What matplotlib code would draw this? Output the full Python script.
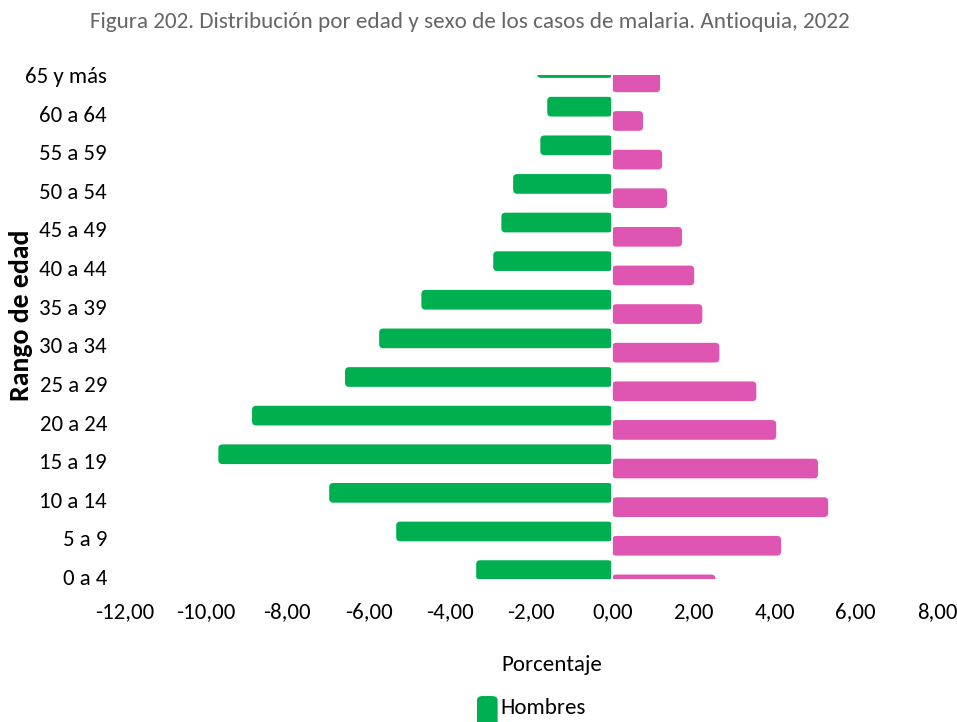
import matplotlib.pyplot as plt
import numpy as np
from matplotlib.patches import FancyBboxPatch

plt.rcParams['font.family'] = ['Carlito', 'DejaVu Sans']

grupos = ['0 a 4', '5 a 9', '10 a 14', '15 a 19', '20 a 24', '25 a 29', '30 a 34',
          '35 a 39', '40 a 44', '45 a 49', '50 a 54', '55 a 59', '60 a 64', '65 y más']
hombres = [-3.35, -5.32, -6.97, -9.70, -8.87, -6.58, -5.74,
           -4.70, -2.93, -2.73, -2.44, -1.77, -1.60, -1.85]
mujeres = [2.54, 4.16, 5.32, 5.07, 4.04, 3.55, 2.64,
           2.22, 2.02, 1.72, 1.35, 1.23, 0.76, 1.18]
xticks = [-12, -10, -8, -6, -4, -2, 0, 2, 4, 6, 8]

verde = '#00B050'
rosa = '#DE55B2'

fig = plt.figure(figsize=(9.57, 7.22), dpi=100)
ax = fig.add_axes([0.1306, 0.1981, 0.8485, 0.698])

y = np.arange(len(grupos))
alto = 0.51
b2 = ax.barh(y - 0.19, mujeres, height=alto, color=rosa, zorder=2)
b1 = ax.barh(y + 0.18, hombres, height=alto, color=verde, zorder=3)

# esquinas redondeadas
for bars in (b2, b1):
    for p in bars:
        x0, w = p.get_x(), p.get_width()
        fb = FancyBboxPatch((min(x0, x0 + w), p.get_y()), abs(w), p.get_height(),
                            boxstyle='round,pad=0,rounding_size=0.1',
                            mutation_aspect=1.05, facecolor=p.get_facecolor(),
                            edgecolor='none', zorder=p.get_zorder())
        ax.add_patch(fb)
        p.set_visible(False)
ax.axvline(0, color='white', lw=1.2, zorder=4)

ax.set_xlim(-12, 8)
ax.set_ylim(-0.05, 13.0)
ax.set_xticks(xticks)
ax.set_xticklabels([f'{v:.2f}'.replace('.', ',') for v in xticks], fontsize=16.5)
ax.set_yticks(y)
ax.set_yticklabels(grupos, fontsize=16.5)
ax.tick_params(axis='x', length=0, pad=17)
ax.tick_params(axis='y', length=0, pad=13)
for s in ax.spines.values():
    s.set_visible(False)

ax.set_xlabel('Porcentaje', fontsize=16.5, va='center')
ax.xaxis.set_label_coords(0.526, -0.171)
ax.set_ylabel('Rango de edad', fontsize=20, fontweight='bold', va='center')
ax.yaxis.set_label_coords(-0.128, 0.524)

fig.text(0.491, 0.969, 'Figura 202. Distribución por edad y sexo de los casos de malaria. Antioquia, 2022',
         ha='center', va='center', fontsize=16.7, color='#666666')

fig.patches.append(FancyBboxPatch((0.4984, -0.01), 0.0216, 0.046,
                                  boxstyle='round,pad=0,rounding_size=0.006',
                                  transform=fig.transFigure, facecolor=verde, edgecolor='none'))
fig.text(0.5225, 0.0194, 'Hombres', ha='left', va='center', fontsize=16.5)

fig.savefig('out.png', dpi=100)
